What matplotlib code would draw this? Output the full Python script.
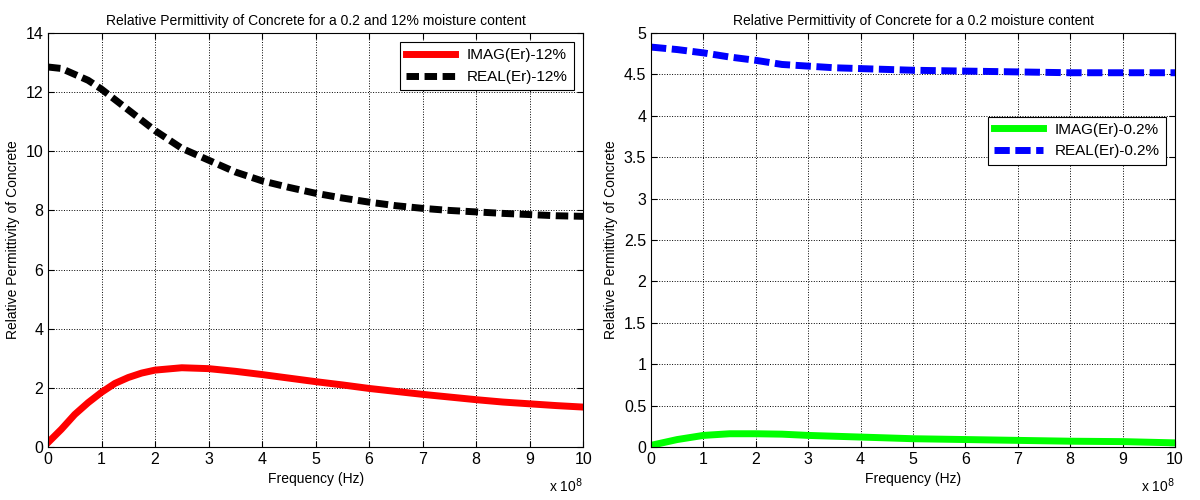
import numpy as np
import matplotlib
matplotlib.use("Agg")
import matplotlib.pyplot as plt

plt.rcParams['font.family'] = ['Liberation Sans', 'DejaVu Sans']

# frequency axis, in units of 1e8 Hz
f_12 = [0, 0.25, 0.5, 0.75, 1, 1.25, 1.5, 1.75, 2, 2.5, 3, 3.5, 4, 4.5, 5,
        5.5, 6, 6.5, 7, 7.5, 8, 8.5, 9, 9.5, 10]
real_12 = [12.85, 12.8, 12.6, 12.4, 12.1, 11.75, 11.4, 11.05, 10.7, 10.1, 9.7,
           9.3, 9.0, 8.78, 8.58, 8.42, 8.28, 8.16, 8.07, 8.0, 7.95, 7.9, 7.86,
           7.82, 7.8]
imag_12 = [0.15, 0.6, 1.1, 1.5, 1.85, 2.15, 2.35, 2.5, 2.6, 2.68, 2.65, 2.56,
           2.45, 2.33, 2.21, 2.1, 1.98, 1.88, 1.78, 1.69, 1.6, 1.52, 1.46,
           1.4, 1.35]

f_02 = [0, 0.5, 1, 1.5, 2, 2.5, 3, 3.5, 4, 5, 6, 7, 8, 9, 10]
real_02 = [4.83, 4.8, 4.76, 4.71, 4.67, 4.62, 4.6, 4.58, 4.57, 4.55, 4.54,
           4.53, 4.52, 4.52, 4.52]
imag_02 = [0.02, 0.09, 0.14, 0.16, 0.16, 0.155, 0.14, 0.13, 0.12, 0.1, 0.09,
           0.08, 0.07, 0.065, 0.05]

def style(ax, ymax, ystep, title):
  ax.set_xlim(0, 10)
  ax.set_ylim(0, ymax)
  ax.set_xticks(np.arange(0, 11, 1))
  ax.set_yticks(np.arange(0, ymax + ystep/2, ystep))
  ax.set_yticklabels(['%g' % v for v in np.arange(0, ymax + ystep/2, ystep)])
  ax.grid(True, color='black', linestyle=':', linewidth=0.7)
  ax.tick_params(direction='in', labelsize=11.5, length=4, top=True, right=True)
  for s in ax.spines.values():
    s.set_linewidth(0.8)
  ax.set_title(title, fontsize=10)
  ax.set_xlabel('Frequency (Hz)', fontsize=10)
  ax.set_ylabel('Relative Permittivity of Concrete', fontsize=10)
  ax.text(1.0, -0.108, r'x 10$^{8}$', transform=ax.transAxes,
          ha='right', va='baseline', fontsize=10)

fig = plt.figure(figsize=(12, 5), dpi=100)

ax1 = fig.add_axes([0.04, 0.106, 0.446, 0.828])
ax1.plot(f_12, imag_12, '-', color='red', linewidth=5, label='IMAG(Er)-12%')
ax1.plot(f_12, real_12, '--', color='black', linewidth=5, dashes=(1.8, 0.8),
         label='REAL(Er)-12%')
style(ax1, 14, 2, 'Relative Permittivity of Concrete for a 0.2 and 12% moisture content')
leg = ax1.legend(loc='upper right', fontsize=11, fancybox=False, framealpha=1,
                 edgecolor='black', handlelength=3.2, borderaxespad=0.6)
leg.get_frame().set_linewidth(0.8)

ax2 = fig.add_axes([0.5425, 0.106, 0.4367, 0.828])
ax2.plot(f_02, imag_02, '-', color='#00ff00', linewidth=5, label='IMAG(Er)-0.2%')
ax2.plot(f_02, real_02, '--', color='blue', linewidth=5, dashes=(2.2, 0.8),
         label='REAL(Er)-0.2%')
style(ax2, 5, 0.5, 'Relative Permittivity of Concrete for a 0.2 moisture content')
leg = ax2.legend(loc='upper right', bbox_to_anchor=(1.0, 0.82), fontsize=11,
                 fancybox=False, framealpha=1, edgecolor='black',
                 handlelength=3.2, borderaxespad=0.6)
leg.get_frame().set_linewidth(0.8)

fig.savefig('out.png', dpi=100)
